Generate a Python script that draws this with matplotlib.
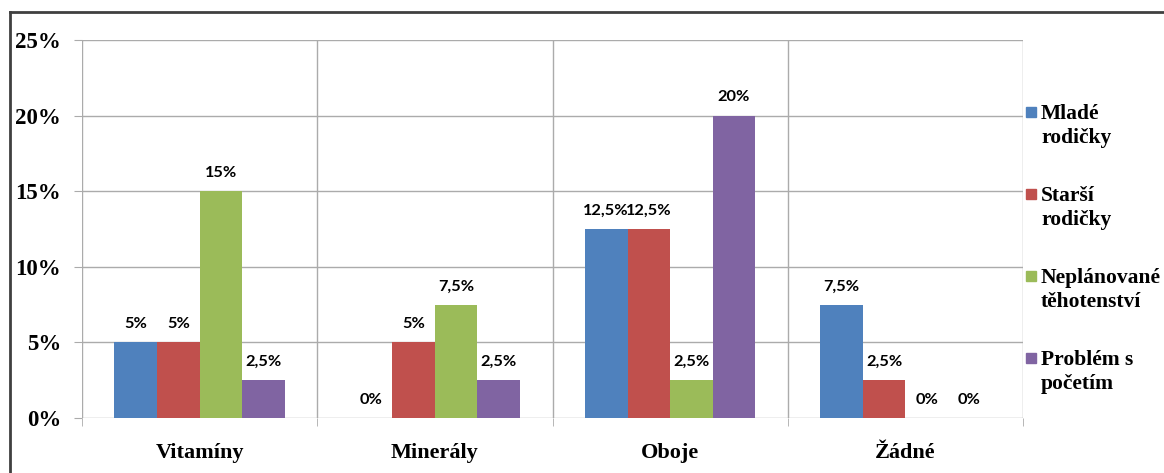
import matplotlib
matplotlib.use("Agg")
import matplotlib.pyplot as plt
from matplotlib.lines import Line2D
from matplotlib.patches import Rectangle
import numpy as np

categories = ["Vitamíny", "Minerály", "Oboje", "Žádné"]
series_names = ["Mladé\nrodičky", "Starší\nrodičky", "Neplánované\ntěhotenství", "Problém s\npočetím"]
mlade = [5, 0, 12.5, 7.5]
starsi = [5, 5, 12.5, 2.5]
neplanovane = [15, 7.5, 2.5, 0]
problem = [2.5, 2.5, 20, 0]
y_ticks = [0, 5, 10, 15, 20, 25]

series = [mlade, starsi, neplanovane, problem]
colors = ["#4F81BD", "#C0504D", "#9BBB59", "#8064A2"]

serif = "Liberation Serif"
label_font = "Lato"
grid_c = "#ABABAB"

fig = plt.figure(figsize=(11.64, 4.73), dpi=100)
ax = fig.add_axes([82 / 1164, 1 - 418 / 473, (1023 - 82) / 1164, (418 - 40) / 473])

x = np.arange(len(categories))
w = 0.181
for i, (vals, c) in enumerate(zip(series, colors)):
    pos = x + (i - 1.5) * w
    ax.bar(pos, vals, width=w, color=c, zorder=3, linewidth=0)
    for xp, v in zip(pos, vals):
        txt = f"{v:g}".replace(".", ",") + "%"
        ax.annotate(txt, (xp, v), xytext=(0, 8), textcoords="offset points",
                    ha="center", va="bottom", fontsize=11.8, fontweight="bold",
                    family=label_font, color="black", zorder=4)

ax.set_xlim(-0.5, len(categories) - 0.5)
ax.set_ylim(0, 25)
ax.set_yticks(y_ticks)
ax.set_yticklabels([f"{t}%" for t in y_ticks], family=serif, fontweight="bold", fontsize=16.5)
ax.set_xticks(x)
ax.set_xticklabels(categories, family=serif, fontweight="bold", fontsize=16)
ax.set_xticks(np.arange(-0.5, len(categories)), minor=True)

ax.tick_params(axis="x", which="major", length=0, pad=18)
ax.tick_params(axis="x", which="minor", length=6, color=grid_c, direction="out")
ax.tick_params(axis="y", which="major", length=6, color=grid_c, direction="out", pad=9)

ax.grid(axis="y", which="major", color=grid_c, linewidth=1, zorder=0)
ax.grid(axis="x", which="minor", color=grid_c, linewidth=1, zorder=0)
for s in ax.spines.values():
    s.set_visible(False)

# legend with square markers aligned to the first line of each entry
entry_y = [112, 194, 276, 358]
for name, c, yc in zip(series_names, colors, entry_y):
    fig.patches.append(Rectangle((1026 / 1164, 1 - (yc + 5) / 473), 10 / 1164, 10 / 473,
                                 transform=fig.transFigure, color=c, figure=fig))
    for k, line in enumerate(name.split("\n")):
        fig.text(1041 / 1164, 1 - (yc + 7 + 24 * k) / 473, line, family=serif,
                 fontweight="bold", fontsize=15.5, va="baseline", ha="left")

# chart frame
fig.add_artist(Line2D([10 / 1164, 10 / 1164], [1 - 12 / 473, 0], transform=fig.transFigure,
                      color="#404040", linewidth=2))
fig.add_artist(Line2D([10 / 1164, 1], [1 - 12 / 473, 1 - 12 / 473], transform=fig.transFigure,
                      color="#404040", linewidth=2))

fig.savefig("out.png", dpi=100)
